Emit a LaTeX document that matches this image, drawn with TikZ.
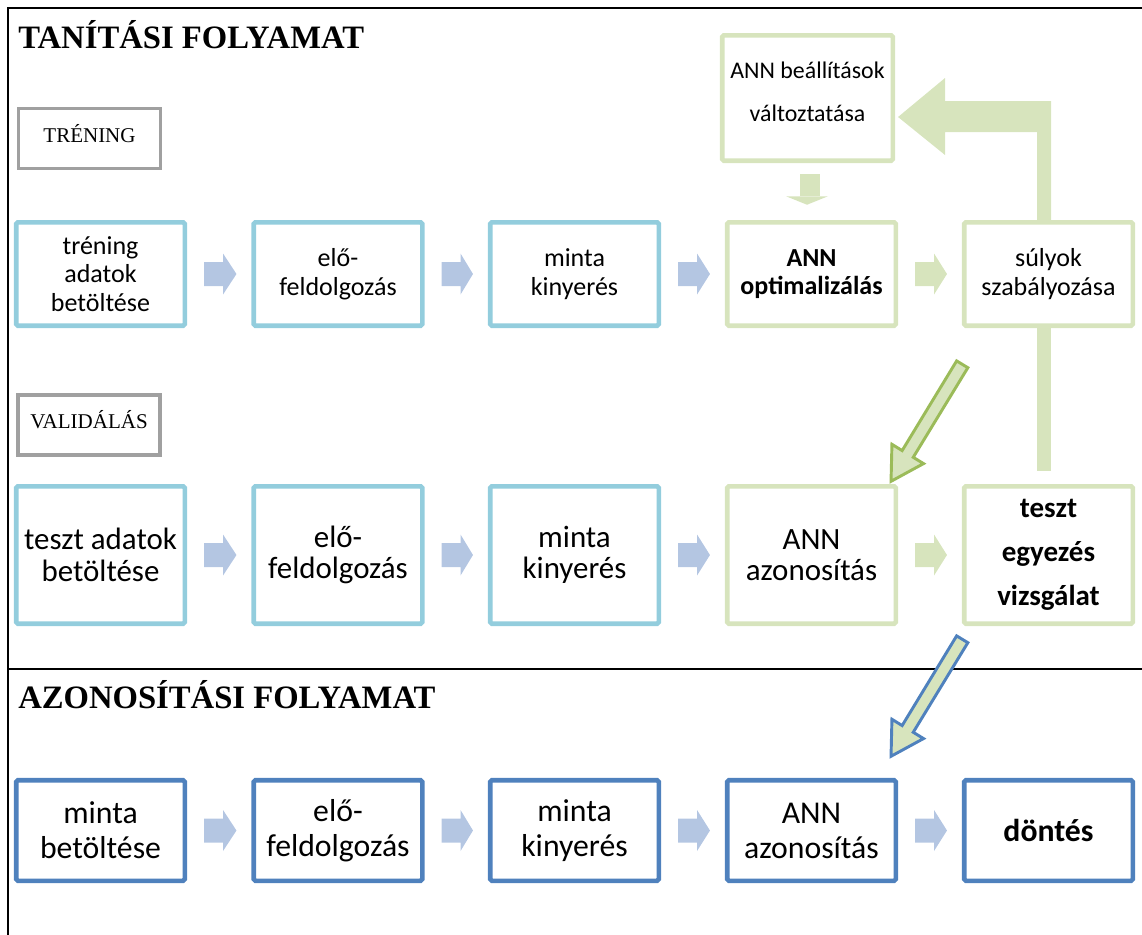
\documentclass[tikz,border=0pt]{standalone}
\usepackage{fontspec}
\setmainfont{Carlito}
\newfontfamily\headfont{Liberation Serif}
\usetikzlibrary{calc}

\definecolor{aqualine}{HTML}{93CDDD}
\definecolor{oliveline}{HTML}{D7E4BD}
\definecolor{olivedark}{HTML}{9BBB59}
\definecolor{steelline}{HTML}{4F81BD}
\definecolor{stepfill}{HTML}{B4C6E2}
\definecolor{tagline}{HTML}{A0A0A0}

% horizontal block arrow between two boxes of one row
\newcommand\flowarrow[3]{%
  \fill[#3] ($(#1.east)+(17,-12)$) -- ($(#1.east)+(36,-12)$) -- ($(#1.east)+(36,-20.5)$)
    -- ($(#2.west)+(-15,0)$) -- ($(#1.east)+(36,20.5)$) -- ($(#1.east)+(36,12)$)
    -- ($(#1.east)+(17,12)$) -- cycle;}

% outlined slanted block arrow, tip at #1
\newcommand\slantarrow[3]{%
  \begin{scope}[shift={(#1)}]
    \filldraw[fill=#2, draw=#3, line width=2.2pt, line join=miter]
      (1,-1.7) -- (33.5,-19.4) -- (23.2,-25.7) -- (77.8,-115.3)
      -- (66.6,-122.1) -- (12.1,-32.4) -- (1.9,-38.7) -- cycle;
  \end{scope}}

\begin{document}
\begin{tikzpicture}[x=0.75pt, y=-0.75pt,
  box/.style={draw, fill=white, line width=3.4pt, rounded corners=1.2pt,
    align=center, inner sep=0pt, minimum width=126.4pt},
  rowA/.style={box, minimum height=77.6pt, font=\fontsize{19.5}{21.4}\selectfont},
  rowB/.style={box, minimum height=103.1pt, font=\fontsize{23.2}{23.5}\selectfont},
  rowC/.style={box, minimum height=75.4pt, font=\fontsize{23.8}{26.3}\selectfont},
  tagbox/.style={draw=tagline, line width=2.6pt, minimum width=106.5pt, minimum height=45pt, inner sep=0pt},
  tagtext/.style={font=\headfont\fontsize{15.75}{18}\selectfont},
  heading/.style={anchor=base west, inner sep=0pt, font=\headfont\bfseries\fontsize{24.5}{28}\selectfont},
]
\useasboundingbox (0,0) rectangle (1142,935);

% frame and section divider
\draw[line width=1.5pt] (8,935) -- (8,8) -- (1142,8);
\draw[line width=1.2pt] (8,669) -- (1142,669);

% section headings
\node[heading] (headtrain) at (18,48) {TANÍTÁSI FOLYAMAT};
\node[heading] (headid) at (18,708) {AZONOSÍTÁSI FOLYAMAT};

% phase tags
\node[tagbox] (tagtrain) at (89.5,138.5) {};
\node[tagtext] (tagtraintext) at ($(tagtrain.center)+(0,-5)$) {TRÉNING};
\node[tagbox] (tagval) at (89,425) {};
\node[tagtext] (tagvaltext) at ($(tagval.center)+(0,-5)$) {VALIDÁLÁS};

% training row
\node[rowA, draw=aqualine] (trload) at (100.5,274) {tréning\\adatok\\betöltése};
\node[rowA, draw=aqualine] (trpre)  at (338,274)   {elő-\\feldolgozás};
\node[rowA, draw=aqualine] (trfeat) at (574.5,274) {minta\\kinyerés};
\node[rowA, draw=oliveline, font=\bfseries\fontsize{19.5}{21.4}\selectfont] (trann) at (811.5,274) {ANN\\optimalizálás};
\node[rowA, draw=oliveline] (trweight) at (1048.5,274) {súlyok\\szabályozása};

% settings box
\node[box, draw=oliveline, minimum width=127.9pt, minimum height=94.1pt] (annset) at (807.5,98) {};
\node[align=center, font=\fontsize{17.9}{32}\selectfont] (annsettext) at ($(annset.center)+(0,-6)$) {ANN beállítások\\változtatása};

% validation row
\node[rowB, draw=aqualine] (vaload) at (100.5,555) {teszt adatok\\betöltése};
\node[rowB, draw=aqualine] (vapre)  at (338,555)   {elő-\\feldolgozás};
\node[rowB, draw=aqualine] (vafeat) at (574.5,555) {minta\\kinyerés};
\node[rowB, draw=oliveline] (vaann) at (811.5,555) {ANN\\azonosítás};
\node[rowB, draw=oliveline, font=\bfseries\fontsize{21.75}{33}\selectfont] (vatest) at (1048.5,555) {teszt\\egyezés\\vizsgálat};

% identification row
\node[rowC, draw=steelline] (idload) at (100.5,830.5) {minta\\betöltése};
\node[rowC, draw=steelline] (idpre)  at (338,830.5)   {elő-\\feldolgozás};
\node[rowC, draw=steelline] (idfeat) at (574.5,830.5) {minta\\kinyerés};
\node[rowC, draw=steelline] (idann)  at (811.5,830.5) {ANN\\azonosítás};
\node[rowC, draw=steelline, font=\bfseries\fontsize{23.8}{26.3}\selectfont] (iddec) at (1048.5,830.5) {döntés};

% arrows along the rows
\flowarrow{trload}{trpre}{stepfill}
\flowarrow{trpre}{trfeat}{stepfill}
\flowarrow{trfeat}{trann}{stepfill}
\flowarrow{trann}{trweight}{oliveline}
\flowarrow{vaload}{vapre}{stepfill}
\flowarrow{vapre}{vafeat}{stepfill}
\flowarrow{vafeat}{vaann}{stepfill}
\flowarrow{vaann}{vatest}{oliveline}
\flowarrow{idload}{idpre}{stepfill}
\flowarrow{idpre}{idfeat}{stepfill}
\flowarrow{idfeat}{idann}{stepfill}
\flowarrow{idann}{iddec}{stepfill}

% settings feed into optimisation
\fill[oliveline] ($(annset.south)+(-7.5,11.25)$) rectangle ($(annset.south)+(12.5,33.25)$);
\fill[oliveline] ($(annset.south)+(-21.5,33.25)$) -- ($(annset.south)+(20.5,33.25)$)
  -- ($(trann.north)+(-4.5,-15.25)$) -- cycle;

% feedback loop: weights back to the settings
\fill[oliveline] ($(trweight.north)+(-11.5,0)$) |- ($(annset.east)+(50,34)$)
  -- ($(annset.east)+(50,57)$) -- ($(annset.east)+(3,19)$) -- ($(annset.east)+(50,-20)$)
  -- ($(annset.east)+(50,3)$) -| ($(trweight.north)+(2.5,0)$) -- cycle;
\fill[oliveline] ($(trweight.south)+(-11.5,0)$) rectangle ($(vatest.north)+(2.5,-13)$);

% hand-over arrows between the stages
\coordinate (valtip) at ($(vaann.north east)+(-8,-1)$);
\coordinate (idtip) at ($(idann.north east)+(-8,-20)$);
\slantarrow{valtip}{oliveline}{olivedark}
\slantarrow{idtip}{oliveline}{steelline}
\end{tikzpicture}
\end{document}
